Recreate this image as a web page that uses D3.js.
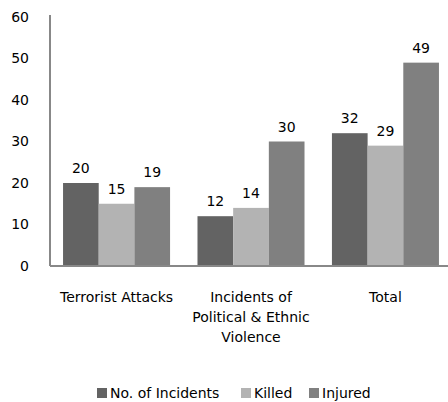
<!DOCTYPE html>
<html>
<head>
<meta charset="utf-8">
<script src="https://cdn.jsdelivr.net/npm/d3@7"></script>
<style>
  body { margin: 0; background: #fff; }
  text { font-family: Tahoma, "DejaVu Sans", sans-serif; fill: #000; }
</style>
</head>
<body>
<svg class="chart"></svg>
<script>
var categories = [["Terrorist Attacks"], ["Incidents of", "Political & Ethnic", "Violence"], ["Total"]];
var seriesNames = ["No. of Incidents", "Killed", "Injured"];
var seriesColors = ["#636363", "#b3b3b3", "#808080"];
var incidents = [20, 12, 32];
var killed = [15, 14, 29];
var injured = [19, 30, 49];
var yTicks = [0, 10, 20, 30, 40, 50, 60];

var series = [incidents, killed, injured];
var frameWidth = 448, frameHeight = 402;
var lmargin = 50, tmargin = 17, bmargin = 136;
var width = frameWidth - lmargin;
var height = frameHeight - tmargin - bmargin;

var svg = d3.select(".chart").attr("width", frameWidth).attr("height", frameHeight);
var g = svg.append("g").attr("transform", "translate(" + lmargin + "," + tmargin + ")");

var catIdx = categories.map(function(d, i) { return i; });
// bands run slightly past the right edge, as in the original
var x0 = d3.scaleBand().domain(catIdx).range([0, 402]).paddingInner(0.204).paddingOuter(0.097);
var x1 = d3.scaleBand().domain([0, 1, 2]).range([0, x0.bandwidth()]);
var yScale = d3.scaleLinear().domain([0, 60]).range([height, 0]);

// bars
series.forEach(function(vals, s) {
  g.selectAll(".bar" + s).data(vals).enter().append("rect")
    .attr("x", function(d, i) { return x0(i) + x1(s); })
    .attr("y", function(d) { return yScale(d); })
    .attr("width", x1.bandwidth())
    .attr("height", function(d) { return height - yScale(d); })
    .attr("fill", seriesColors[s]);
  g.selectAll(".lab" + s).data(vals).enter().append("text")
    .attr("x", function(d, i) { return x0(i) + x1(s) + x1.bandwidth() / 2; })
    .attr("y", function(d) { return yScale(d) - 10; })
    .attr("text-anchor", "middle")
    .style("font-size", "14px")
    .text(function(d) { return d; });
});

// y axis labels
yTicks.forEach(function(t) {
  svg.append("text")
    .attr("x", 29)
    .attr("y", tmargin + yScale(t))
    .attr("dy", "0.35em")
    .attr("text-anchor", "end")
    .style("font-size", "14px")
    .text(t);
});

// axis lines
g.append("line").attr("x1", 0).attr("x2", 0).attr("y1", -2).attr("y2", height)
  .attr("stroke", "#888").attr("stroke-width", 2);
g.append("line").attr("x1", 0).attr("x2", width).attr("y1", height).attr("y2", height)
  .attr("stroke", "#888").attr("stroke-width", 2);

// category labels
categories.forEach(function(lines, i) {
  var t = g.append("text")
    .attr("text-anchor", "middle")
    .style("font-size", "14px");
  lines.forEach(function(l, j) {
    t.append("tspan")
      .attr("x", x0(i) + x0.bandwidth() / 2)
      .attr("y", height + 36 + j * 20)
      .text(l);
  });
});

// legend
var legX = [97, 241, 309];
seriesNames.forEach(function(n, s) {
  svg.append("rect").attr("x", legX[s]).attr("y", 388).attr("width", 10).attr("height", 10)
    .attr("fill", seriesColors[s]);
  svg.append("text").attr("x", legX[s] + 13).attr("y", 393).attr("dy", "0.35em")
    .style("font-size", "14px").text(n);
});
</script>
</body>
</html>
